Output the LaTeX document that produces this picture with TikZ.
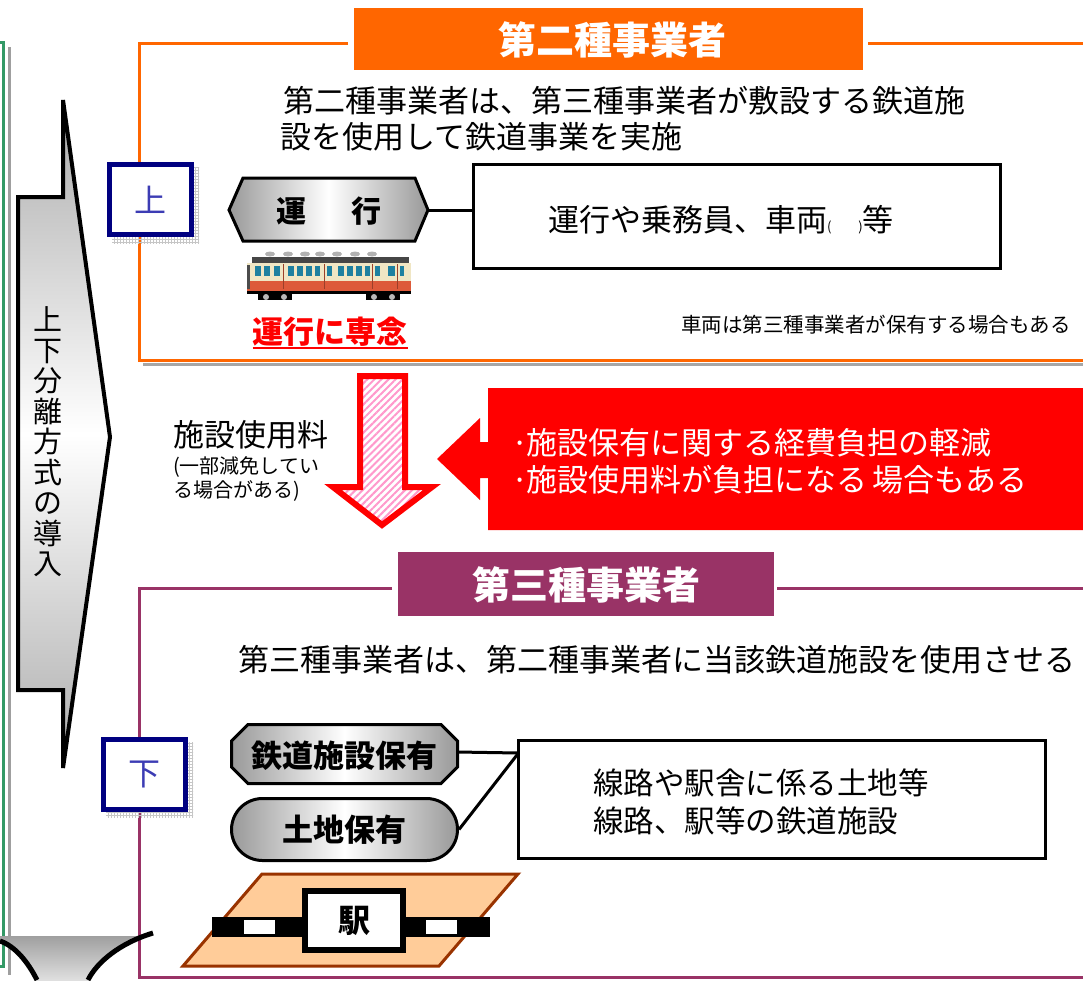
\documentclass[tikz,border=0pt]{standalone}
\usepackage{fontspec}
\setmainfont{Noto Sans CJK JP}
\usetikzlibrary{patterns,patterns.meta}
\definecolor{secOrange}{HTML}{FF6600}
\definecolor{thirdPurple}{HTML}{993366}
\definecolor{boxNavy}{HTML}{000080}
\definecolor{labelBlue}{HTML}{3C3CB4}
\definecolor{frameGreen}{HTML}{339966}
\definecolor{hatchPink}{HTML}{FF99CC}
\definecolor{stationFill}{HTML}{FFCC99}
\definecolor{stationEdge}{HTML}{993300}
\definecolor{trainCream}{HTML}{F0E6C4}
\definecolor{trainRed}{HTML}{DD5A3A}
\definecolor{trainWin}{HTML}{1E80A0}
\newcommand\jpsize[2]{\fontsize{#1}{#2}\selectfont}
% narrow bullet used in the red call-out
\newcommand\narrowdot{\makebox[12pt][c]{·}}

\begin{document}
\begin{tikzpicture}[x=1pt,y=-1pt,
  txt/.style={inner sep=0pt, outer sep=0pt},
  bodytext/.style={txt, font=\jpsize{31}{37}},
  smalltext/.style={txt, font=\jpsize{20.5}{24}},
  headtext/.style={txt, text=white, font=\bfseries\jpsize{38}{40}},
  boldtext/.style={txt, font=\bfseries\jpsize{31}{33}},
  grayshade/.style={left color=gray!80, right color=gray!80, middle color=white},
  infobox/.style={draw, line width=3.5pt, fill=white, inner sep=0pt},
  tagbox/.style={draw=boxNavy, line width=5pt, fill=white, inner sep=0pt,
    minimum width=82pt, minimum height=70pt, text=labelBlue, font=\jpsize{32}{34}},
  tagshadow/.style={pattern=grid, pattern color=gray!45},
  link/.style={line width=3pt},
]
\useasboundingbox (0,0) rectangle (1083,980);

% outer green frame with its shadow
\draw[gray!75, line width=3pt] (9,47) -- (9,975);
\draw[frameGreen, line width=3pt] (0,42) -- (3.5,42) -- (3.5,966) -- (0,966);

% vertical arrow: introduction of the vertical separation scheme
\draw[line width=4pt, top color=gray!65, bottom color=gray!65, middle color=white]
  (63,100) -- (110,437) -- (63,768) -- (63,690) -- (18,690) -- (18,197) -- (63,197) -- cycle;
\node[txt, font=\jpsize{29}{30.5}, align=center] (schemeText) at (48,442)
  {上\\下\\分\\離\\方\\式\\の\\導\\入};

% ---------- second-class operator frame ----------
\draw[gray!70, line width=3pt] (143,364) -- (1083,364);
\draw[secOrange, line width=3pt] (348,43) -- (139,43) -- (139,360) -- (1083,360);
\draw[secOrange, line width=3pt] (868,43) -- (1083,43);
\fill[secOrange] (354,8) rectangle (863,70);
\node[headtext] (secTitle) at (612,40) {第二種事業者};

\node[bodytext, anchor=west] (secLine1) at (283,101) {第二種事業者は、第三種事業者が敷設する鉄道施};
\node[bodytext, anchor=west] (secLine2) at (280,137) {設を使用して鉄道事業を実施};

% upper tag
\fill[tagshadow] (112,167) rectangle (199,243);
\node[tagbox] (upTag) at (150.5,199.5) {上};

% operation hexagon and its box
\draw[line width=3pt, grayshade] (229,210) -- (243,178) -- (415,178) -- (428,210) -- (415,241) -- (243,241) -- cycle;
\node[boldtext, font=\bfseries\jpsize{30}{32}] (unkoLabel) at (329,211) {運\hspace{45pt}行};
\coordinate (unkoTip) at (428,210);
\node[infobox, minimum width=527pt, minimum height=104pt] (unkoBox) at (737,216.5) {};
\draw[link] (unkoTip) -- (unkoTip -| unkoBox.west);
\node[bodytext, anchor=west] (unkoText) at (548,220)
  {運行や乗務員、車両{\jpsize{13}{13}(\hspace{27pt})}等};
\node[smalltext, anchor=west] (vehNote) at (681,325) {車両は第三種事業者が保有する場合もある};

% train
\fill[gray!55!black] (252,257) rectangle (409,263);
\foreach \px in {270,288,305,320,337,355,372} \fill[gray!60] (\px,254) ellipse (5pt and 2.5pt);
\fill[trainCream] (247,263) rectangle (411,281);
\fill[trainRed] (247,281) rectangle (411,291);
\fill[gray!60!black] (247,265) rectangle (250,289);
\foreach \wa/\wb in {255/261,264/270,274/280,288/294,297/303,306/312,315/320,327/332,338/344,347/353,356/362,365/370,375/380,388/395,400/404}
  \fill[trainWin] (\wa,266) rectangle (\wb,276);
\foreach \dx in {283,324,372,397} \draw[trainRed!70!black, line width=0.8pt] (\dx,264) -- (\dx,289);
\fill (247,291) rectangle (411,294);
\fill (258,293) rectangle (292,300);
\fill (366,293) rectangle (400,300);
\foreach \wx in {266,284,374,392} \fill[gray!55] (\wx,297) circle (3pt);

% focus on operation
\node[boldtext, text=red] (focus) at (330,332) {運行に専念};
\coordinate (ulY) at (0,348);
\draw[red, line width=2.5pt] (focus.west |- ulY) -- (focus.east |- ulY);

% ---------- facility fee arrow ----------
\path[preaction={fill=white}, pattern={Lines[angle=45,distance=5pt,line width=2pt]}, pattern color=hatchPink,
      draw=red, line width=6pt]
  (360,376) -- (405,376) -- (405,487) -- (432,487) -- (382,525) -- (333,487) -- (360,487) -- cycle;
\node[bodytext, anchor=west] (feeLabel) at (173,435) {施設使用料};
\node[smalltext, font=\jpsize{20}{24}, anchor=west, align=left] (feeNote) at (173,479) {(一部減免してい\\る場合がある)};

% red call-out
\fill[red] (488,388) -- (1083,388) -- (1083,530) -- (488,530) -- (488,478) -- (480,478) -- (480,500)
  -- (437,459) -- (480,418) -- (480,442) -- (488,442) -- cycle;
\node[bodytext, text=white, anchor=west, align=left] (redText) at (514,461)
  {\narrowdot 施設保有に関する経費負担の軽減\\\narrowdot 施設使用料が負担になる\hspace{6pt}場合もある};

% ---------- third-class operator frame ----------
\draw[thirdPurple, line width=3pt] (392,588) -- (139,588) -- (139,977) -- (1083,977);
\draw[thirdPurple, line width=3pt] (777,588) -- (1083,588);
\fill[thirdPurple] (398,552) rectangle (774,616);
\node[headtext] (thirdTitle) at (586,585) {第三種事業者};
\node[bodytext, anchor=west] (thirdText) at (238,660) {第三種事業者は、第二種事業者に当該鉄道施設を使用させる};

% lower tag
\fill[tagshadow] (106,742) rectangle (193,817);
\node[tagbox] (downTag) at (144,774.5) {下};

% facility ownership and land ownership
\draw[line width=3pt, grayshade] (248,724.5) -- (441,724.5) -- (457.5,741) -- (457.5,767) -- (441,783.5)
  -- (248,783.5) -- (231.5,767) -- (231.5,741) -- cycle;
\node[boldtext] (facility) at (344.5,756) {鉄道施設保有};
\coordinate (facilityR) at (457.5,752);
\node[draw, line width=3pt, grayshade, rounded corners=31pt, minimum width=226pt, minimum height=62pt,
      inner sep=0pt, font=\bfseries\jpsize{31}{33}] (land) at (344.5,829.5) {土地保有};
\node[infobox, minimum width=527pt, minimum height=118pt] (landBox) at (782,799.5) {};
\coordinate (meet) at (518.5,753);
\draw[link] (facilityR) -- (meet);
\draw[link] (land.east) -- (meet);
\node[txt, anchor=west, align=left, font=\jpsize{30.5}{38}] (landText) at (593,802)
  {線路や駅舎に係る土地等\\線路、駅等の鉄道施設};

% station
\draw[stationEdge, line width=3pt, fill=stationFill] (262,874) -- (518,874) -- (439,966) -- (183,966) -- cycle;
\fill (212,917) rectangle (490,937);
\fill[white] (244,920) rectangle (275,934);
\fill[white] (426,920) rectangle (457,934);
\node[draw, line width=6pt, fill=white, minimum width=98pt, minimum height=59pt, inner sep=0pt,
      font=\bfseries\jpsize{32}{34}] (eki) at (354,920.5) {駅};

% next arrow, cut by the lower edge
\fill[top color=gray!75, bottom color=gray!25] (0,936) -- (140,936) .. controls (115,945) and (97,962) .. (88,980)
  -- (37,980) .. controls (28,962) and (15,946) .. (0,941) -- cycle;
\draw[line width=5pt] (0,941) .. controls (15,946) and (28,962) .. (37,980);
\draw[line width=5pt] (153,933) .. controls (120,943) and (97,962) .. (88,980);
\end{tikzpicture}
\end{document}
